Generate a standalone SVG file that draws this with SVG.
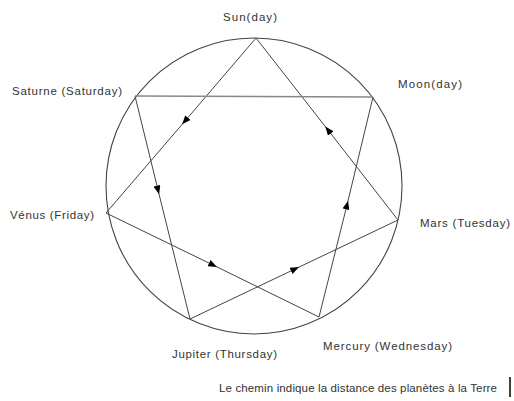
<svg xmlns="http://www.w3.org/2000/svg" width="514" height="401" viewBox="0 0 514 401">
<style>
.lbl{font-family:"Liberation Sans",Arial,sans-serif;font-size:11.5px;fill:#333}
.ln{fill:none;stroke:#444;stroke-width:1}
.ring{fill:none;stroke:#444;stroke-width:1.1}
</style>
<defs>
<marker id="ah" viewBox="0 0 10 8" markerWidth="9" markerHeight="7" refX="5" refY="4" orient="auto" markerUnits="userSpaceOnUse">
<path d="M0,0 L10,4 L0,8 z" fill="#000"/>
</marker>
</defs>
<rect width="514" height="401" fill="#fff"/>
<circle class="ring" cx="254" cy="186" r="148"/>
<g id="connectors">
<path class="ln" d="M256,38 L185,121 L106,213" marker-mid="url(#ah)"/>
<path class="ln" d="M398,220 L328,130 L256,38" marker-mid="url(#ah)"/>
<path class="ln" d="M135,96 L158,190 L190,319" marker-mid="url(#ah)"/>
<path class="ln" d="M319,317 L347,205 L373,97" marker-mid="url(#ah)"/>
<path class="ln" d="M106,213 L213,265 L319,317" marker-mid="url(#ah)"/>
<path class="ln" d="M190,319 L295,269 L398,220" marker-mid="url(#ah)"/>
<path d="M135,96 L373,97" fill="none" stroke="#888" stroke-width="1.6"/>
</g>
<g id="sun"><text class="lbl" x="223" y="21" textLength="54" lengthAdjust="spacing">Sun(day)</text></g>
<g id="moon"><text class="lbl" x="398" y="88" textLength="64" lengthAdjust="spacing">Moon(day)</text></g>
<g id="mars"><text class="lbl" x="420" y="227" textLength="90" lengthAdjust="spacing">Mars (Tuesday)</text></g>
<g id="mercury"><text class="lbl" x="323" y="350" textLength="129" lengthAdjust="spacing">Mercury (Wednesday)</text></g>
<g id="jupiter"><text class="lbl" x="172" y="358" textLength="105" lengthAdjust="spacing">Jupiter (Thursday)</text></g>
<g id="venus"><text class="lbl" x="10" y="219" textLength="84" lengthAdjust="spacing">Vénus (Friday)</text></g>
<g id="saturne"><text class="lbl" x="12" y="95" textLength="110" lengthAdjust="spacing">Saturne (Saturday)</text></g>
<g id="caption">
<text class="lbl" x="219" y="392" textLength="278" lengthAdjust="spacing">Le chemin indique la distance des planètes à la Terre</text>
<line x1="510" y1="377" x2="510" y2="397" stroke="#000" stroke-width="1.5"/>
</g>
</svg>
